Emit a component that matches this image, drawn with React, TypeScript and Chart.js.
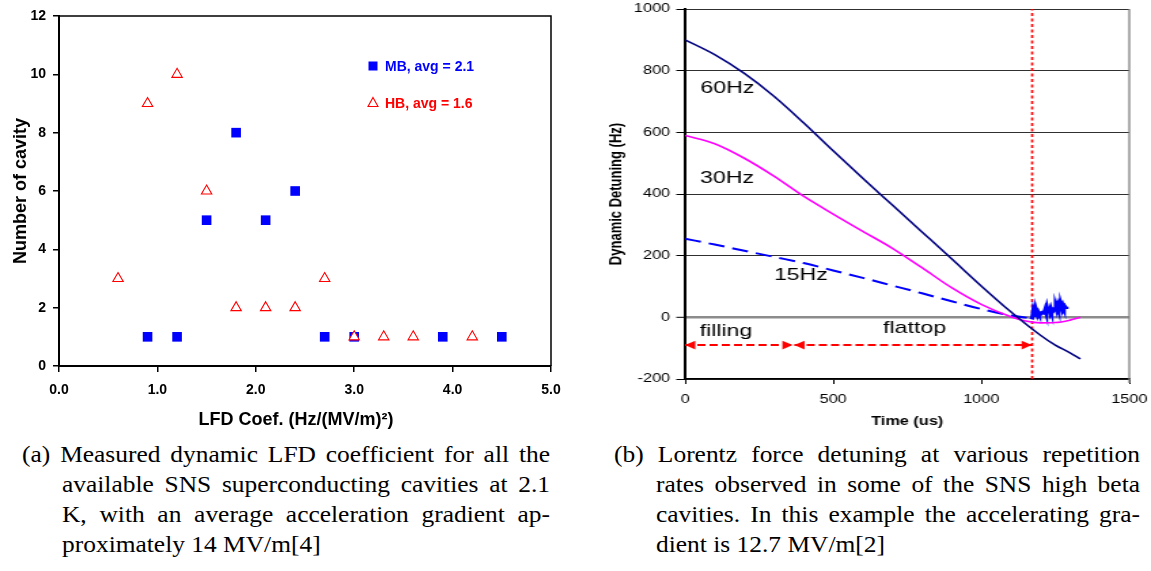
import React, { useEffect, useRef } from "react";
import { Chart, registerables } from "chart.js";

Chart.register(...registerables);

const SANS = "'Liberation Sans', Arial, Helvetica, sans-serif";
const SERIF = "'Liberation Serif', 'Times New Roman', serif";

// ---------- panel (a) data ----------
const coefTicks = [0, 1, 2, 3, 4, 5];
const cavityTicks = [0, 2, 4, 6, 8, 10, 12];
const mbCoef = [0.9, 1.2, 1.5, 1.8, 2.1, 2.4, 2.7, 3.0, 3.9, 4.5];
const mbCount = [1, 1, 5, 8, 5, 6, 1, 1, 1, 1];
const hbCoef = [0.6, 0.9, 1.2, 1.5, 1.8, 2.1, 2.4, 2.7, 3.0, 3.3, 3.6, 4.2];
const hbCount = [3, 9, 10, 6, 2, 2, 2, 3, 1, 1, 1, 1];
const seriesLabels = ["MB, avg = 2.1", "HB, avg = 1.6"];
const coefTitle = "LFD Coef. (Hz/(MV/m)²)";
const cavityTitle = "Number of cavity";

// ---------- panel (b) data ----------
const timeTicks = [0, 500, 1000, 1500];
const detuneTicks = [-200, 0, 200, 400, 600, 800, 1000];
const t60 = [0, 100, 200, 300, 400, 500, 600, 700, 800, 900, 1000, 1100, 1200, 1250, 1300, 1335];
const d60 = [900, 852, 791, 717, 631, 540, 451, 364, 277, 190, 102, 18, -58, -90, -115, -135];
const t30 = [0, 100, 200, 300, 400, 500, 600, 700, 800, 900, 1000, 1100, 1150, 1200, 1250, 1300, 1335];
const d30 = [590, 563, 516, 458, 393, 335, 279, 224, 161, 96, 42, 2, -12, -18, -17, -9, 0];
const t15 = [0, 100, 200, 300, 400, 500, 600, 700, 800, 900, 1000, 1100, 1172];
const d15 = [255, 236, 216, 196, 176, 152, 128, 103, 78, 52, 27, 6, -3];
const tTail = [1165, 1172, 1175, 1178, 1181, 1184, 1187, 1190, 1193, 1196, 1199, 1203, 1207, 1212, 1216, 1219, 1222, 1225, 1228, 1231, 1234, 1237, 1240, 1244, 1248, 1252, 1255, 1258, 1261, 1264, 1267, 1270, 1273, 1276, 1279, 1282, 1285, 1288];
const dTail = [0, -2, 18, 4, 20, 6, 18, 8, 16, 10, 14, 12, 16, 14, 26, 16, 32, 20, 34, 22, 30, 20, 26, 22, 28, 34, 24, 38, 28, 40, 30, 38, 28, 38, 30, 36, 32, 34];
const fillingSpan = [0, 363];
const flattopSpan = [369, 1171];
const arrowLevel = -90;
const pulseEnd = 1172;
const noteText = ["60Hz", "30Hz", "15Hz", "filling", "flattop"];
const noteTime = [52, 51, 300, 49, 669];
const noteDetune = [744, 451, 137, -45, -35];
const timeTitle = "Time (us)";
const detuneTitle = "Dynamic Detuning (Hz)";

// ---------- captions ----------
const captionA = [
  "(a) Measured dynamic LFD coefficient for all the",
  "available SNS superconducting cavities at 2.1",
  "K, with an average acceleration gradient ap-",
  "proximately 14 MV/m[4]",
];
const captionB = [
  "(b) Lorentz force detuning at various repetition",
  "rates observed in some of the SNS high beta",
  "cavities. In this example the accelerating gra-",
  "dient is 12.7 MV/m[2]",
];

const pts = (xs: number[], ys: number[]) => xs.map((x, i) => ({ x, y: ys[i] }));
const zeroPad = (s: any) => {
  s.paddingLeft = 0;
  s.paddingRight = 0;
  s.paddingTop = 0;
  s.paddingBottom = 0;
};

// right panel is drawn narrow and stretched horizontally, like the source image
const STRETCH = 1.358;
const RIGHT_CSS_W = 561;
const RIGHT_W = Math.round(RIGHT_CSS_W / STRETCH);

function LeftChart() {
  const ref = useRef<HTMLCanvasElement>(null);
  useEffect(() => {
    const framePlugin = {
      id: "frameA",
      afterDraw(chart: any) {
        const { ctx, chartArea: a } = chart;
        ctx.save();
        ctx.strokeStyle = "#000";
        ctx.lineWidth = 1.5;
        ctx.beginPath();
        ctx.moveTo(a.left, a.top);
        ctx.lineTo(a.right, a.top);
        ctx.lineTo(a.right, a.bottom);
        ctx.stroke();
        // x title
        ctx.fillStyle = "#000";
        ctx.font = `bold 18px ${SANS}`;
        ctx.textAlign = "center";
        ctx.textBaseline = "middle";
        ctx.fillText(coefTitle, (a.left + a.right) / 2 - 9, 420);
        // inline legend
        const lx = 373;
        const ly = [66, 103];
        chart.data.datasets.forEach((ds: any, i: number) => {
          const y = ly[i];
          if (ds.pointStyle === "rect") {
            ctx.fillStyle = ds.pointBackgroundColor;
            ctx.fillRect(lx - 4.5, y - 4.5, 9, 9);
          } else {
            ctx.strokeStyle = ds.pointBorderColor;
            ctx.lineWidth = 1.1;
            ctx.beginPath();
            ctx.moveTo(lx, y - 5.5);
            ctx.lineTo(lx + 5, y + 3.5);
            ctx.lineTo(lx - 5, y + 3.5);
            ctx.closePath();
            ctx.stroke();
          }
          ctx.fillStyle = ds.pointBorderColor;
          ctx.font = `bold 14px ${SANS}`;
          ctx.textAlign = "left";
          ctx.textBaseline = "middle";
          ctx.fillText(ds.label, lx + 12, y + 1);
        });
        ctx.restore();
      },
    };
    const tickFont = { family: SANS, size: 14, weight: "bold" as const };
    const chart = new Chart(ref.current!, {
      type: "scatter",
      data: {
        datasets: [
          {
            label: seriesLabels[0],
            data: pts(mbCoef, mbCount),
            pointStyle: "rect",
            pointRadius: 6.8,
            pointBackgroundColor: "#0000ff",
            pointBorderColor: "#0000ff",
            pointBorderWidth: 0,
            order: 1,
          },
          {
            label: seriesLabels[1],
            data: pts(hbCoef, hbCount),
            pointStyle: "triangle",
            pointRadius: 6,
            pointBackgroundColor: "#ffffff",
            pointBorderColor: "#ff0000",
            pointBorderWidth: 1.1,
            order: 0,
          },
        ],
      } as any,
      options: {
        responsive: false,
        animation: false,
        devicePixelRatio: 1,
        events: [],
        layout: { padding: { left: 0, right: 24, top: 16, bottom: 0 } },
        plugins: { legend: { display: false }, tooltip: { enabled: false } },
        scales: {
          x: {
            type: "linear",
            min: 0,
            max: 5,
            afterBuildTicks: (s: any) => {
              s.ticks = coefTicks.map((v) => ({ value: v }));
            },
            afterFit: (s: any) => {
              s.height = 64;
              zeroPad(s);
            },
            ticks: {
              callback: (v: any) => Number(v).toFixed(1),
              font: tickFont,
              color: "#000",
              padding: 10,
              maxRotation: 0,
              autoSkip: false,
            },
            grid: { drawOnChartArea: false, tickLength: 6, color: "#000", lineWidth: 1.5 },
            border: { color: "#000", width: 2 },
          },
          y: {
            type: "linear",
            min: 0,
            max: 12,
            afterBuildTicks: (s: any) => {
              s.ticks = cavityTicks.map((v) => ({ value: v }));
            },
            afterFit: (s: any) => {
              s.width = 59;
              zeroPad(s);
            },
            ticks: { font: tickFont, color: "#000", padding: 7, autoSkip: false },
            grid: { drawOnChartArea: false, tickLength: 6, color: "#000", lineWidth: 1.5 },
            border: { color: "#000", width: 2 },
            title: {
              display: true,
              text: cavityTitle,
              font: { family: SANS, size: 18, weight: "bold" },
              color: "#000",
              padding: { top: 10, bottom: 0 },
            },
          },
        },
      } as any,
      plugins: [framePlugin],
    });
    return () => chart.destroy();
  }, []);
  return (
    <canvas
      ref={ref}
      width={575}
      height={430}
      style={{ position: "absolute", left: 0, top: 0, width: 575, height: 430 }}
    />
  );
}

function RightChart() {
  const ref = useRef<HTMLCanvasElement>(null);
  useEffect(() => {
    const drawHead = (ctx: any, x: number, y: number, dir: number) => {
      ctx.beginPath();
      ctx.moveTo(x, y);
      ctx.lineTo(x - dir * 7.5, y - 4.3);
      ctx.lineTo(x - dir * 7.5, y + 4.3);
      ctx.closePath();
      ctx.fill();
    };
    const notesPlugin = {
      id: "notesB",
      afterDatasetsDraw(chart: any) {
        const { ctx, chartArea: a, scales } = chart;
        ctx.save();
        // right border
        ctx.strokeStyle = "#808080";
        ctx.lineWidth = 1.3;
        ctx.beginPath();
        ctx.moveTo(a.right, a.top);
        ctx.lineTo(a.right, a.bottom + 4);
        ctx.stroke();
        // arrow heads
        ctx.fillStyle = "#ff0000";
        chart.data.datasets.forEach((ds: any, di: number) => {
          if (!ds.arrows) return;
          const p = chart.getDatasetMeta(di).data;
          const s = p[0];
          const e = p[p.length - 1];
          drawHead(ctx, s.x, s.y, -1);
          drawHead(ctx, e.x, e.y, 1);
        });
        // notes
        ctx.fillStyle = "#000";
        ctx.font = `17px ${SANS}`;
        ctx.textAlign = "left";
        ctx.textBaseline = "middle";
        noteText.forEach((s, i) => {
          ctx.fillText(s, scales.x.getPixelForValue(noteTime[i]), scales.y.getPixelForValue(noteDetune[i]));
        });
        ctx.restore();
      },
    };
    const tickFont = { family: SANS, size: 12 };
    const line = (data: any, color: string, width: number, extra: any = {}) => ({
      data,
      showLine: true,
      borderColor: color,
      backgroundColor: color,
      borderWidth: width,
      pointRadius: 0,
      fill: false,
      ...extra,
    });
    const chart = new Chart(ref.current!, {
      type: "scatter",
      data: {
        datasets: [
          line(pts(t60, d60), "#000080", 1.6, { cubicInterpolationMode: "monotone", label: "60Hz" }),
          line(pts(t30, d30), "#ff00ff", 1.6, { cubicInterpolationMode: "monotone", label: "30Hz" }),
          line(pts(t15, d15), "#0000ff", 2, { cubicInterpolationMode: "monotone", borderDash: [12, 6], label: "15Hz" }),
          line(pts(tTail, dTail), "#0000ff", 3, { label: "15Hz tail" }),
          line(pts([pulseEnd, pulseEnd], [-200, 1000]), "#ff0000", 1.6, { borderDash: [3, 2.5] }),
          line(pts(fillingSpan, [arrowLevel, arrowLevel]), "#ff0000", 2, { borderDash: [6, 3], arrows: true }),
          line(pts(flattopSpan, [arrowLevel, arrowLevel]), "#ff0000", 2, { borderDash: [6, 3], arrows: true }),
        ],
      } as any,
      options: {
        responsive: false,
        animation: false,
        devicePixelRatio: 1,
        events: [],
        layout: { padding: { left: 0, right: RIGHT_W - 397, top: 9, bottom: 0 } },
        plugins: { legend: { display: false }, tooltip: { enabled: false } },
        scales: {
          x: {
            type: "linear",
            min: 0,
            max: 1500,
            afterBuildTicks: (s: any) => {
              s.ticks = timeTicks.map((v) => ({ value: v }));
            },
            afterFit: (s: any) => {
              s.height = 51;
              zeroPad(s);
            },
            ticks: {
              callback: (v: any) => String(v),
              font: tickFont,
              color: "#000",
              padding: 8,
              maxRotation: 0,
              autoSkip: false,
            },
            grid: { drawOnChartArea: false, tickLength: 5, color: "#000", lineWidth: 1 },
            border: { color: "#000", width: 1.5 },
            title: {
              display: true,
              text: timeTitle,
              font: { family: SANS, size: 12, weight: "bold" },
              color: "#000",
              padding: { top: 0, bottom: 1 },
            },
          },
          y: {
            type: "linear",
            min: -200,
            max: 1000,
            afterBuildTicks: (s: any) => {
              s.ticks = detuneTicks.map((v) => ({ value: v }));
            },
            afterFit: (s: any) => {
              s.width = 70;
              zeroPad(s);
            },
            ticks: { callback: (v: any) => String(v), font: tickFont, color: "#000", padding: 4.5, autoSkip: false },
            grid: {
              color: (c: any) => (c.tick && c.tick.value === 0 ? "#8c8c8c" : "#303030"),
              lineWidth: (c: any) => (c.tick && c.tick.value === 0 ? 2.6 : 1),
              tickColor: "#000",
              tickWidth: 1,
              tickLength: 6.5,
            },
            border: { color: "#000", width: 2 },
            title: {
              display: true,
              text: detuneTitle,
              font: { family: SANS, size: 13, weight: "bold" },
              color: "#000",
              padding: { top: 12, bottom: 0 },
            },
          },
        },
      } as any,
      plugins: [notesPlugin],
    });
    return () => chart.destroy();
  }, []);
  return (
    <canvas
      ref={ref}
      width={RIGHT_W}
      height={430}
      style={{ position: "absolute", left: 590, top: 0, width: RIGHT_CSS_W, height: 430 }}
    />
  );
}

const SX = 1.06;
function Caption({ lines, left, indent, right }: { lines: string[]; left: number; indent: number; right: number }) {
  return (
    <>
      {lines.map((s, i) => {
        const x = i === 0 ? left : left + indent;
        const w = (right - x) / SX;
        const last = i === lines.length - 1;
        return (
          <div
            key={i}
            style={{
              position: "absolute",
              left: x,
              top: 439 + 30 * i,
              width: w,
              height: 30,
              lineHeight: "30px",
              fontFamily: SERIF,
              fontSize: 24,
              color: "#000",
              textAlign: last ? "left" : "justify",
              textAlignLast: last ? "left" : "justify",
              transform: `scaleX(${SX})`,
              transformOrigin: "left top",
              whiteSpace: "normal",
            } as any}
          >
            {s}
          </div>
        );
      })}
    </>
  );
}

export default function App() {
  return (
    <div
      style={{
        position: "absolute",
        left: 0,
        top: 0,
        width: 1151,
        height: 571,
        background: "#fff",
        overflow: "hidden",
      }}
    >
      <LeftChart />
      <RightChart />
      <Caption lines={captionA} left={22} indent={40} right={550} />
      <Caption lines={captionB} left={614} indent={42} right={1140} />
    </div>
  );
}
